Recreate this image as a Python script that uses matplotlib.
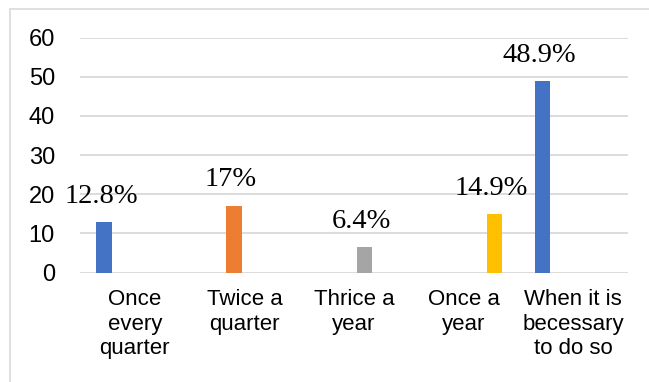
import matplotlib.pyplot as plt
import matplotlib.patches as mpatches
import numpy as np

# categories and series (Excel-style clustered chart, one value per category)
categories = ["Once\nevery\nquarter", "Twice a\nquarter", "Thrice a\nyear",
              "Once a\nyear", "When it is\nbecessary\nto do so"]
series_blue = [12.8, 0, 0, 0, 48.9]
series_orange = [0, 17, 0, 0, 0]
series_gray = [0, 0, 6.4, 0, 0]
series_yellow = [0, 0, 0, 14.9, 0]
label_text = ["12.8%", "17%", "6.4%", "14.9%", "48.9%"]

colors = ["#4472C4", "#ED7D31", "#A5A5A5", "#FFC000"]
all_series = [series_blue, series_orange, series_gray, series_yellow]

fig = plt.figure(figsize=(6.49, 3.82), dpi=100)
ax = fig.add_axes([80 / 649, 1 - 272.5 / 382, 548 / 649, (272.5 - 37.7) / 382])

x = np.arange(len(categories))
slot = 0.188
offsets = [-1.5 * slot, -0.5 * slot, 0.5 * slot, 1.5 * slot]
bar_w = 0.142

for vals, off, col in zip(all_series, offsets, colors):
    for i, v in enumerate(vals):
        if v > 0:
            ax.bar(x[i] + off, v, width=bar_w, color=col, zorder=3)
            ax.annotate(label_text[i], (x[i] + off, v), xytext=(-3, 26),
                        textcoords="offset pixels", ha="center", va="center",
                        fontsize=20.5, family="Liberation Serif", zorder=4)

ax.set_xlim(-0.5, len(categories) - 0.5)
ax.set_ylim(0, 60)
ax.set_yticks(range(0, 61, 10))
ax.set_xticks(x)
ax.set_xticklabels(categories, fontsize=16, family="Liberation Sans",
                   linespacing=1.22)
ax.tick_params(axis="y", labelsize=17, length=0, pad=18)
ax.tick_params(axis="x", length=0, pad=12)
for lbl in ax.get_yticklabels():
    lbl.set_family("Liberation Sans")
ax.grid(axis="y", color="#D9D9D9", linewidth=1.3, zorder=0)
for s in ax.spines.values():
    s.set_visible(False)

# chart border
fig.patches.append(mpatches.Rectangle((10 / 649, -0.05), 1.1, 1 - 9 / 382 + 0.05,
                                      transform=fig.transFigure, fill=False,
                                      edgecolor="#D9D9D9", linewidth=1.2))

fig.savefig("out.png", dpi=100)
